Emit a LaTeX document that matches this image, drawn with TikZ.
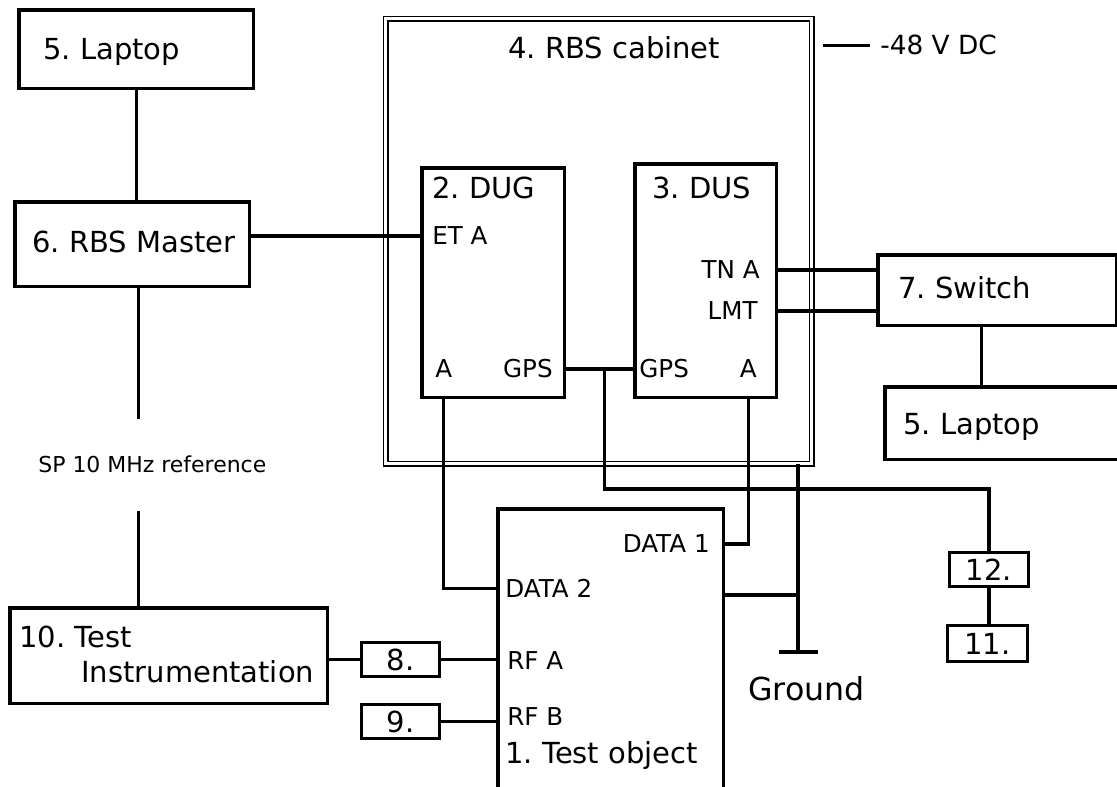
\documentclass[tikz,border=0pt]{standalone}
\usepackage{fontspec}
\setmainfont{DejaVu Sans}
\frenchspacing
\usetikzlibrary{positioning,calc}

\begin{document}
\begin{tikzpicture}[x=0.02cm, y=-0.02cm,
    box/.style={rectangle, draw=black, line width=2pt, anchor=north west, inner sep=0pt},
    tag/.style={rectangle, draw=black, line width=1.7pt, anchor=north west, inner sep=0pt, minimum width=1.56cm, minimum height=0.68cm, font=\fontsize{16.5}{18}\selectfont},
    lbl/.style={inner sep=0pt, anchor=base west, font=\fontsize{16.5}{18}\selectfont},
    port/.style={inner sep=0pt, anchor=base west, font=\fontsize{14}{16}\selectfont},
    wire/.style={line width=1.8pt}
]
\useasboundingbox (0,0) rectangle (1117,787);
\clip (0,0) rectangle (1117,787);

% RBS cabinet
\node[rectangle, draw=black, line width=0.9pt, double, double distance=1.8pt, anchor=north west, minimum width=8.52cm, minimum height=8.9cm] (cab) at (385,18) {};
\node[lbl] (cabtxt) at (508,59) {4. RBS cabinet};

\node[box, minimum width=2.86cm, minimum height=4.6cm] (dug) at (420,166) {};
\node[lbl] (dugtxt) at (432,199) {2. DUG};
\node[port] (eta) at (432,245) {ET A};
\node[port] (duga) at (435,378) {A};
\node[port, anchor=base east] (duggps) at (553,378) {GPS};

\node[box, minimum width=2.84cm, minimum height=4.68cm] (dus) at (633,162) {};
\node[lbl] (dustxt) at (652,199) {3. DUS};
\node[port, anchor=base east] (tna) at (760,279) {TN A};
\node[port, anchor=base east] (lmt) at (758,320) {LMT};
\node[port] (dusgps) at (639,378) {GPS};
\node[port, anchor=base east] (dusa) at (757,378) {A};

\node[port, font=\fontsize{15}{17}\selectfont] (dc) at (880,55) {-48 V DC};

% Left side
\node[box, minimum width=4.7cm, minimum height=1.58cm] (lap1) at (17,8) {};
\node[lbl] (lap1txt) at (43,60) {5. Laptop};
\node[box, minimum width=4.7cm, minimum height=1.7cm] (master) at (13,200) {};
\node[lbl] (mastertxt) at (32,253) {6. RBS Master};
\node[inner xsep=0pt, inner ysep=0.74cm, anchor=base west, font=\fontsize{12.5}{14}\selectfont] (spref) at (38,473) {SP 10 MHz reference};
\node[box, minimum width=6.36cm, minimum height=1.92cm] (instr) at (8,606) {};
\node[lbl] (instrtxt1) at (19,647) {10. Test};
\node[lbl] (instrtxt2) at (81,683) {Instrumentation};
\node[tag] (b8) at (360,641) {8.};
\node[tag] (b9) at (360,703) {9.};

% Test object
\node[box, minimum width=4.52cm, minimum height=6cm] (test) at (496,507) {};
\node[port, anchor=base east] (data1) at (710,553) {DATA 1};
\node[port] (data2) at (505,598) {DATA 2};
\node[port] (rfa) at (507,669) {RF A};
\node[port] (rfb) at (507,725) {RF B};
\node[lbl] (testtxt) at (505,763) {1. Test object};

% Right side
\node[box, minimum width=4.78cm, minimum height=1.42cm] (switch) at (876,253) {};
\node[lbl] (switchtxt) at (898,299) {7. Switch};
\node[box, minimum width=5cm, minimum height=1.46cm] (lap2) at (883,385) {};
\node[lbl] (lap2txt) at (903,435) {5. Laptop};
\node[tag, minimum width=1.58cm] (b12) at (948,551) {12.};
\node[tag, minimum width=1.6cm, minimum height=0.72cm] (b11) at (946,624) {11.};

% Ground
\node[lbl, font=\fontsize{18}{20}\selectfont] (gndtxt) at (748,700) {Ground};
\coordinate (gnd) at (798,652);
\coordinate (gjoin) at (798,595);

% Connections
\coordinate (mtap) at ([xshift=0.13cm]master.south);
\coordinate (swtap) at ([xshift=-0.31cm]switch.south);
\coordinate (gpsj) at ($(dug.east |- duggps)!0.57!(dus.west |- duggps)$);

\draw[wire] (lap1.south) -- (lap1.south |- master.north);
\draw[wire] (master.east |- eta) -- (dug.west |- eta);
\draw[wire] (mtap) -- (mtap |- spref.north);
\draw[wire] (mtap |- spref.south) -- (mtap |- instr.north);
\draw[wire] (instr.east |- b8.west) -- (b8.west);
\draw[wire] (b8.east) -- (b8.east -| test.west);
\draw[wire] (b9.east) -- (b9.east -| test.west);
\draw[wire] (duga.south |- dug.south) |- (test.west |- data2);
\draw[wire] (dug.east |- duggps) -- (dus.west |- duggps);
\draw[wire] (gpsj) -- ++(0,120) -| (b12.north);
\draw[wire] (dusa.south |- dus.south) |- (test.east |- data1);
\draw[wire] (dus.east |- tna) -- (switch.west |- tna);
\draw[wire] (dus.east |- lmt) -- (switch.west |- lmt);
\draw[wire] (swtap) -- (swtap |- lap2.north);
\draw[wire] (b12.south) -- (b12.south |- b11.north);
\draw[wire] (gnd |- cab.south) -- (gnd);
\draw[wire] ([xshift=-0.38cm]gnd) -- ([xshift=0.4cm]gnd);
\draw[wire] (test.east |- gjoin) -- (gjoin);
\draw[wire] ([xshift=-0.2cm]dc.west) -- ++(-0.94cm,0);

\end{tikzpicture}
\end{document}
